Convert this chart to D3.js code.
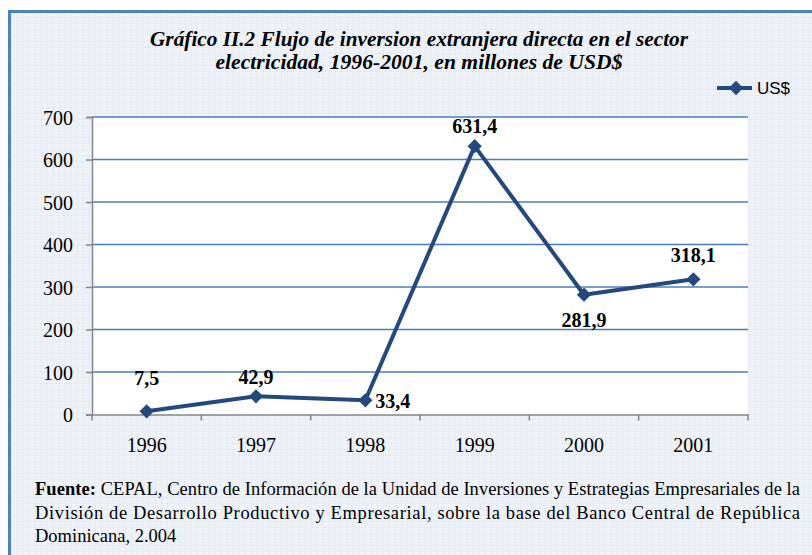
<!DOCTYPE html>
<html><head><meta charset="utf-8">
<script src="https://cdn.jsdelivr.net/npm/d3@7"></script>
<style>html,body{margin:0;padding:0;background:#fff}svg{display:block}</style>
</head><body>
<script>
const years = ["1996","1997","1998","1999","2000","2001"];
const values = [7.5, 42.9, 33.4, 631.4, 281.9, 318.1];
const valueLabels = ["7,5","42,9","33,4","631,4","281,9","318,1"];
const yTicks = [0,100,200,300,400,500,600,700];
const seriesName = "US$";
const titleLines = ["Gráfico II.2 Flujo de inversion extranjera directa  en el sector","electricidad, 1996-2001, en millones de USD$"];
const footerLines = [
  ["Fuente:", " CEPAL, Centro de Información de la Unidad de Inversiones y Estrategias Empresariales de la"],
  ["", "División de Desarrollo Productivo y Empresarial, sobre la base del Banco Central de República"],
  ["", "Dominicana, 2.004"]
];

(function(){
const SERIF = "Liberation Serif, Times New Roman, Times, serif";
const W = 812, H = 555;
const svg = d3.select("body").append("svg").attr("width", W).attr("height", H);
const defs = svg.append("defs");
const pat = defs.append("pattern").attr("id","grid").attr("width",6).attr("height",6).attr("patternUnits","userSpaceOnUse");
pat.append("rect").attr("width",6).attr("height",6).attr("fill","#eef3fa");
pat.append("path").attr("d","M6 0V6M0 6H6").attr("stroke","#dbe5f1").attr("stroke-width",1).attr("fill","none");

svg.append("rect").attr("width",W).attr("height",H).attr("fill","#fff");
svg.append("rect").attr("x",9).attr("y",11).attr("width",W-9).attr("height",H-11).attr("fill","url(#grid)");
svg.append("path").attr("d",`M9.5 ${H}V11.5H${W}`).attr("stroke","#4f81bd").attr("stroke-width",3).attr("fill","none");

const pL = 92, pR = 748, pT = 117, pB = 414.5;
const x = d3.scaleBand().domain(years).range([pL, pR]);
const y = d3.scaleLinear().domain([0,700]).range([pB, pT]);

svg.append("rect").attr("x",pL).attr("y",pT).attr("width",pR-pL).attr("height",pB-pT).attr("fill","#fff");

svg.append("g").selectAll("line").data(yTicks.filter(d=>d>0)).join("line")
  .attr("x1",pL).attr("x2",pR).attr("y1",d=>y(d)).attr("y2",d=>y(d))
  .attr("stroke","#4a7ebb").attr("stroke-width",1.5);

const yAxis = svg.append("g").attr("transform",`translate(${pL},0)`)
  .call(d3.axisLeft(y).tickValues(yTicks).tickSize(6).tickPadding(13).tickFormat(d=>d));
yAxis.attr("font-family", null).attr("font-size", null);
yAxis.select(".domain").attr("stroke","#868686").attr("stroke-width",1.5);
yAxis.selectAll(".tick line").attr("stroke","#868686").attr("stroke-width",1.5);
yAxis.selectAll("text").style("font-family",SERIF).style("font-size","20px").attr("fill","#000").attr("dy","0.36em");

const xAxis = svg.append("g").attr("transform",`translate(0,${pB})`)
  .call(d3.axisBottom(x).tickSize(0).tickPadding(23));
xAxis.attr("font-family", null).attr("font-size", null);
xAxis.select(".domain").attr("stroke","#868686").attr("stroke-width",1.5);
xAxis.selectAll("text").style("font-family",SERIF).style("font-size","20px").attr("fill","#000");
const bounds = years.map(d=>x(d)).concat([x(years[years.length-1])+x.bandwidth()]);
svg.append("g").selectAll("line").data(bounds).join("line")
  .attr("x1",d=>d).attr("x2",d=>d).attr("y1",pB).attr("y2",pB+6)
  .attr("stroke","#868686").attr("stroke-width",1.5);

const cx = d => x(d) + x.bandwidth()/2;
const lineColor = "#23497e";
const line = d3.line().x((d,i)=>cx(years[i])).y(d=>y(d));
svg.append("path").datum(values).attr("d",line).attr("fill","none").attr("stroke",lineColor).attr("stroke-width",4).attr("stroke-linejoin","round");
const diamond = d3.symbol().type(d3.symbolDiamond2).size(130);
svg.append("g").selectAll("path").data(values).join("path")
  .attr("d",diamond).attr("transform",(d,i)=>`translate(${cx(years[i])},${y(d)})`).attr("fill",lineColor);

const labelPos = [
  {dx:0, dy:-26, a:"middle"},
  {dx:0, dy:-12, a:"middle"},
  {dx:10, dy:8, a:"start"},
  {dx:0, dy:-13, a:"middle"},
  {dx:0, dy:32, a:"middle"},
  {dx:0, dy:-17, a:"middle"}
];
svg.append("g").selectAll("text").data(values).join("text")
  .attr("x",(d,i)=>cx(years[i])+labelPos[i].dx).attr("y",(d,i)=>y(d)+labelPos[i].dy)
  .attr("text-anchor",(d,i)=>labelPos[i].a)
  .style("font-family",SERIF).attr("font-weight","bold").style("font-size","20px")
  .text((d,i)=>valueLabels[i]);

const titleW = [538, 407];
svg.append("g").selectAll("text").data(titleLines).join("text")
  .attr("x",419).attr("y",(d,i)=>46+i*23).attr("text-anchor","middle")
  .attr("textLength",(d,i)=>titleW[i]).attr("lengthAdjust","spacingAndGlyphs")
  .style("font-family",SERIF).attr("font-weight","bold").attr("font-style","italic").style("font-size","21px")
  .text(d=>d);

const lg = svg.append("g");
lg.append("line").attr("x1",717).attr("x2",752).attr("y1",88).attr("y2",88).attr("stroke",lineColor).attr("stroke-width",4);
lg.append("path").attr("d",diamond).attr("transform","translate(736,88)").attr("fill",lineColor);
lg.append("text").attr("x",757).attr("y",94).style("font-family","Liberation Sans, Arial, sans-serif").style("font-size","17px").text(seriesName);

const ft = svg.append("g");
footerLines.forEach((l,i)=>{
  const t = ft.append("text").attr("x",35).attr("y",495+i*23.5)
    .style("font-family",SERIF).style("font-size","18.5px").attr("fill","#000");
  if (i < 2) t.attr("textLength",765).attr("lengthAdjust","spacing");
  if (l[0]) t.append("tspan").attr("font-weight","bold").text(l[0]);
  t.append("tspan").text(l[1]);
});
})();
</script>
</body></html>
